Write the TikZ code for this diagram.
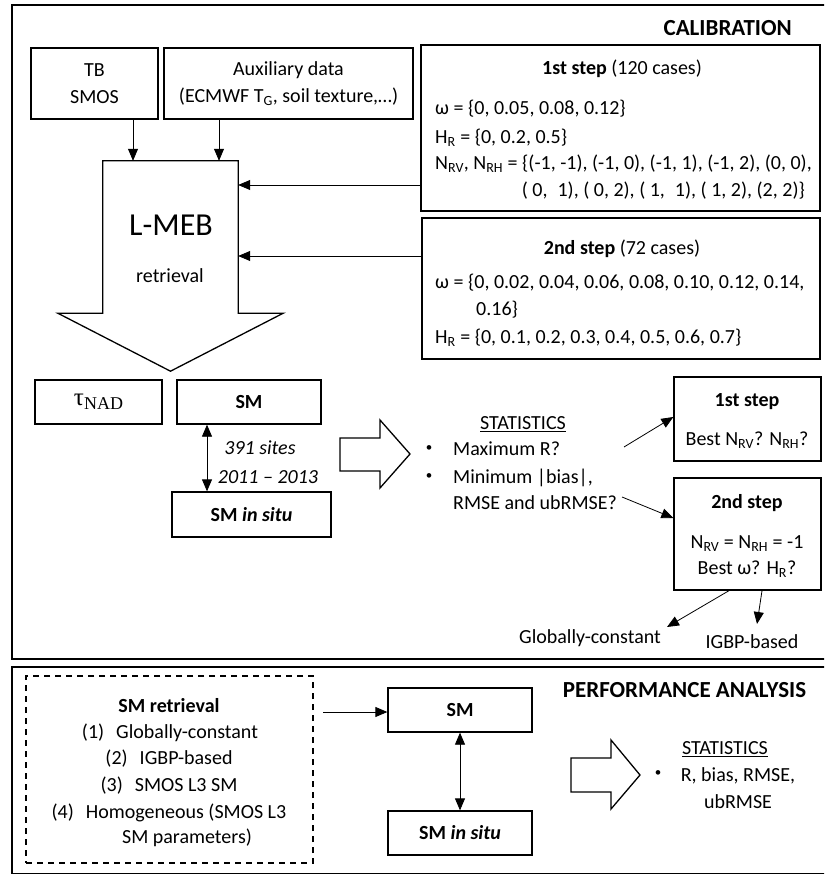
\documentclass[tikz,border=0pt]{standalone}
\usepackage{fontspec}
\setmainfont{Carlito}
\newfontfamily\lserif{Liberation Serif}
\usetikzlibrary{arrows.meta,calc}
\begin{document}
\begin{tikzpicture}[x=1pt,y=-1pt,
  box/.style={draw, line width=1.3pt, inner sep=0pt, align=center, font=\fontsize{20}{27}\selectfont},
  frame/.style={draw, line width=2pt},
  arr/.style={line width=0.8pt, -{Triangle[length=12pt,width=10pt]}},
  darr/.style={line width=0.8pt, {Triangle[length=12pt,width=10pt]}-{Triangle[length=12pt,width=10pt]}},
  txt/.style={inner sep=0pt, anchor=base, font=\fontsize{20}{27}\selectfont},
  bul/.style={inner sep=0pt, font=\fontsize{13}{13}\selectfont},
  title/.style={inner sep=0pt, anchor=base, font=\fontsize{23}{27}\selectfont\bfseries},
  blockarrow/.style={draw, line width=1.3pt, line join=miter}
]
\useasboundingbox (0,0) rectangle (824,874);
\clip (0,0) rectangle (824,874);

% frames
\draw[frame] (12,5) rectangle (832,659);
\draw[frame] (12,667) rectangle (832,874);

% titles
\node[title, anchor=base east] (caltitle) at (792,35.5) {CALIBRATION};
\node[title] (perftitle) at (684.5,697.5) {PERFORMANCE ANALYSIS};

% top inputs
\node[box, minimum width=127pt, minimum height=71pt] (tb) at (94.5,83.5) {TB\\SMOS};
\node[box, minimum width=249pt, minimum height=71pt] (aux) at (288.5,83.5) {Auxiliary data\\(ECMWF T\textsubscript{G}, soil texture,…)};

% L-MEB block arrow
\node[inner sep=0pt, minimum width=135pt, minimum height=152pt] (lmeb) at (170.5,237) {};
\draw[blockarrow] (lmeb.north west) -- (lmeb.north east) -- (lmeb.south east) -- ++(45,0)
  -- ($(lmeb.south)+(0,58)$) -- ($(lmeb.south west)+(-45,0)$) -- (lmeb.south west) -- cycle;
\node[txt, font=\fontsize{32}{32}\selectfont] (lmebt) at (171,236) {L-MEB};
\node[txt] (retr) at (170,283) {retrieval};

\coordinate (xtb) at (133,0);
\coordinate (xaux) at (219,0);
\draw[arr] (tb.south -| xtb) -- (lmeb.north -| xtb);
\draw[arr] (aux.south -| xaux) -- (lmeb.north -| xaux);

% 1st step box
\node[box, minimum width=399pt, minimum height=166pt] (step1) at (620.5,128) {};
\node[txt] (s1t) at (622,74.5) {\textbf{1st step} (120 cases)};
\node[txt, anchor=base west] (s1a) at (435,114.5) {ω = \{0, 0.05, 0.08, 0.12\}};
\node[txt, anchor=base west] (s1b) at (435,143.5) {H\textsubscript{R} = \{0, 0.2, 0.5\}};
\node[txt, anchor=base west] (s1c) at (435,169.5) {N\textsubscript{RV}, N\textsubscript{RH} = \{(-1, -1), (-1, 0), (-1, 1), (-1, 2), (0, 0),};
\node[txt, anchor=base east] (s1d) at (805,196.5) {( 0,\enspace 1), ( 0, 2), ( 1,\enspace 1), ( 1, 2), (2, 2)\}};

% 2nd step box
\node[box, minimum width=398pt, minimum height=141pt] (step2) at (621,288.5) {};
\node[txt] (s2t) at (622,254.5) {\textbf{2nd step} (72 cases)};
\node[txt, anchor=base west] (s2a) at (435,288.5) {ω = \{0, 0.02, 0.04, 0.06, 0.08, 0.10, 0.12, 0.14,};
\node[txt, anchor=base west] (s2b) at (476,315.5) {0.16\}};
\node[txt, anchor=base west] (s2c) at (435,343.5) {H\textsubscript{R} = \{0, 0.1, 0.2, 0.3, 0.4, 0.5, 0.6, 0.7\}};

\coordinate (y1) at (0,185);
\coordinate (y2) at (0,256);
\draw[arr] (step1.west |- y1) -- (lmeb.east |- y1);
\draw[arr] (step2.west |- y2) -- (lmeb.east |- y2);

% outputs
\node[box, minimum width=127pt, minimum height=44pt, font=\lserif\fontsize{25}{25}\selectfont] (tau) at (98.5,402) {τ\raisebox{-4pt}{\fontsize{18}{18}\selectfont NAD}};
\node[box, minimum width=144pt, minimum height=44pt] (sm) at (249,402) {\textbf{SM}};
\node[box, minimum width=159pt, minimum height=45pt] (insitu) at (251.5,514.5) {\textbf{SM \textit{in situ}}};
\coordinate (xd) at (207,0);
\draw[darr] (sm.south -| xd) -- (insitu.north -| xd);
\node[txt, font=\fontsize{20}{27}\selectfont\itshape] (sites) at (260,454.5) {391 sites};
\node[txt, font=\fontsize{20}{27}\selectfont\itshape] (years) at (268,483.5) {2011 – 2013};

% block arrow calibration
\draw[blockarrow] (340,438) -- (380,438) -- (380,420) -- (410,454) -- (380,488) -- (380,471) -- (340,471) -- cycle;

% statistics calibration
\node[txt] (stat1) at (523,429.5) {\underline{STATISTICS}};
\node[bul] (b1) at (429,449) {•};
\node[txt, anchor=base west] (st1a) at (453,455.5) {Maximum R?};
\node[bul] (b2) at (429,477) {•};
\node[txt, anchor=base west] (st1b) at (453,483.5) {Minimum |bias|,};
\node[txt, anchor=base west] (st1c) at (453,509.5) {RMSE and ubRMSE?};

% result boxes
\node[box, minimum width=147pt, minimum height=84pt] (r1) at (747.5,419) {};
\node[txt] (r1a) at (747,406.5) {\textbf{1st step}};
\node[txt] (r1b) at (747,445.5) {Best N\textsubscript{RV}? N\textsubscript{RH}?};
\node[box, minimum width=147pt, minimum height=112pt] (r2) at (747.5,534) {};
\node[txt] (r2a) at (747,508.5) {\textbf{2nd step}};
\node[txt] (r2b) at (747,548.5) {N\textsubscript{RV} = N\textsubscript{RH} = -1};
\node[txt] (r2c) at (747,574.5) {Best ω? H\textsubscript{R}?};

\coordinate (ca) at (624,447);
\coordinate (cb) at (622,497);
\coordinate (ya) at (0,417);
\coordinate (yb) at (0,518);
\draw[arr] (ca) -- (r1.west |- ya);
\draw[arr] (cb) -- (r2.west |- yb);

\node[txt] (glob) at (590,643.5) {Globally-constant};
\node[txt] (igbp) at (752,648) {IGBP-based};
\coordinate (xg) at (729,0);
\coordinate (xi) at (762,0);
\coordinate (tg) at (667,627);
\coordinate (ti) at (757,624);
\draw[arr] (r2.south -| xg) -- (tg);
\draw[arr] (r2.south -| xi) -- (ti);

% performance analysis
\node[draw, line width=1.3pt, dash pattern=on 6pt off 5pt, minimum width=287pt, minimum height=187pt, inner sep=0pt] (ret) at (169.5,769.5) {};
\node[txt, font=\fontsize{20}{27}\selectfont\bfseries] (rt) at (169,712.5) {SM retrieval};
\node[txt] (r1l) at (170,738.5) {(1)\hspace{12pt}Globally-constant};
\node[txt] (r2l) at (169,764.5) {(2)\hspace{12pt}IGBP-based};
\node[txt] (r3l) at (169,791.5) {(3)\hspace{12pt}SMOS L3 SM};
\node[txt] (r4l) at (169,818.5) {(4)\hspace{12pt}Homogeneous (SMOS L3};
\node[txt] (r5l) at (187,843.5) {SM parameters)};

\node[box, minimum width=144pt, minimum height=44pt] (smp) at (460,710) {\textbf{SM}};
\node[box, minimum width=144pt, minimum height=44pt] (smis) at (460,833) {\textbf{SM \textit{in situ}}};
\coordinate (pa) at (323,712);
\draw[arr] (pa) -- (smp.west |- pa);
\draw[darr] (smp.south) -- (smis.north);

\draw[blockarrow] (571,758) -- (611,758) -- (611,740) -- (640,775) -- (611,809) -- (611,792) -- (571,792) -- cycle;
\node[bul] (b3) at (658,774) {•};
\node[txt] (stat2) at (725,754.5) {\underline{STATISTICS}};
\node[txt] (p1) at (738,781.5) {R, bias, RMSE,};
\node[txt] (p2) at (738,808.5) {ubRMSE};
\end{tikzpicture}
\end{document}
